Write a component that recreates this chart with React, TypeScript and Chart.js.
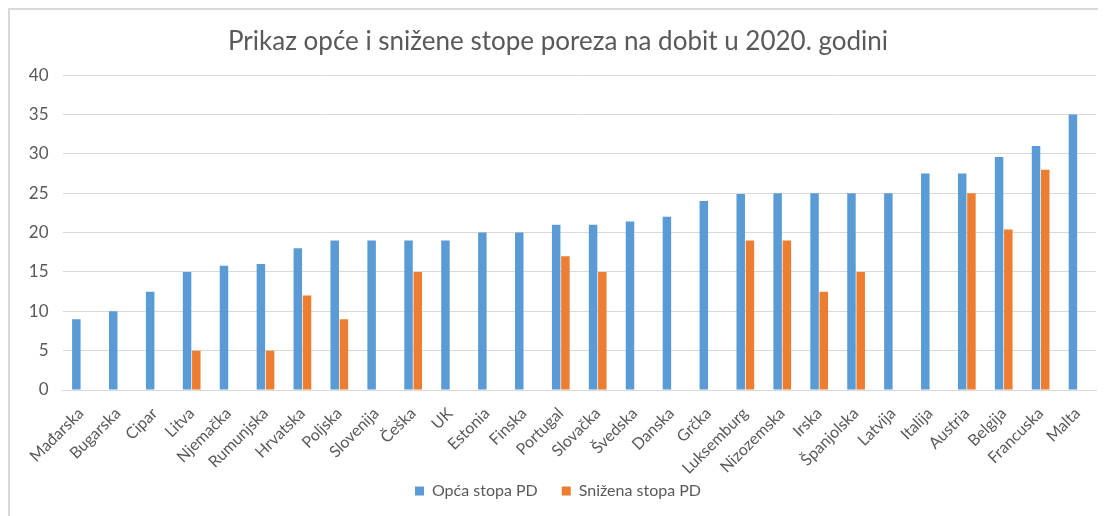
import React, { useEffect, useRef } from "react";
import { Chart, registerables } from "chart.js";

Chart.register(...registerables);

const categories = [
  "Mađarska", "Bugarska", "Cipar", "Litva", "Njemačka", "Rumunjska", "Hrvatska",
  "Poljska", "Slovenija", "Češka", "UK", "Estonia", "Finska", "Portugal",
  "Slovačka", "Švedska", "Danska", "Grčka", "Luksemburg", "Nizozemska", "Irska",
  "Španjolska", "Latvija", "Italija", "Austria", "Belgija", "Francuska", "Malta",
];

const opcaStopa = [
  9, 10, 12.5, 15, 15.8, 16, 18, 19, 19, 19, 19, 20, 20, 21, 21, 21.4, 22, 24,
  24.9, 25, 25, 25, 25, 27.5, 27.5, 29.6, 31, 35,
];

const snizenaStopa = [
  null, null, null, 5, null, 5, 12, 9, null, 15, null, null, null, 17, 15, null,
  null, null, 19, 19, 12.5, 15, null, null, 25, 20.4, 28, null,
];

const yTicks = [0, 5, 10, 15, 20, 25, 30, 35, 40];

const TITLE = "Prikaz opće i snižene stope poreza na dobit u 2020. godini";
const SERIES = ["Opća stopa PD", "Snižena stopa PD"];
const COLORS = ["#5B9BD5", "#ED7D31"];
const TEXT = "#595959";
const GRID = "#D9D9D9";
const FONT = "Lato, 'Open Sans', sans-serif";

const noLabelClip = {
  id: "noLabelClip",
  afterLayout(chart: any) {
    if (chart.scales.x) chart.scales.x._computeLabelArea = () => undefined;
  },
};

export default function App() {
  const ref = useRef<HTMLCanvasElement | null>(null);

  useEffect(() => {
    if (!ref.current) return;
    const chart = new Chart(ref.current, {
      type: "bar",
      data: {
        labels: categories,
        datasets: [
          {
            label: SERIES[0],
            data: opcaStopa,
            backgroundColor: COLORS[0],
            barPercentage: 0.92,
            categoryPercentage: 0.5,
          },
          {
            label: SERIES[1],
            data: snizenaStopa as any,
            backgroundColor: COLORS[1],
            barPercentage: 0.92,
            categoryPercentage: 0.5,
          },
        ],
      },
      plugins: [noLabelClip],
      options: {
        animation: false,
        responsive: false,
        maintainAspectRatio: false,
        layout: { padding: { left: 10, right: 10, top: 0, bottom: 7 } },
        plugins: {
          title: {
            display: true,
            text: TITLE,
            color: TEXT,
            font: { family: FONT, size: 26, weight: "normal" },
            padding: { top: 16, bottom: 18 },
          },
          legend: {
            position: "bottom",
            labels: {
              color: TEXT,
              font: { family: FONT, size: 16 },
              boxWidth: 9,
              boxHeight: 9,
              padding: 24,
            },
          },
          tooltip: { enabled: false },
        },
        scales: {
          x: {
            grid: { display: false, drawTicks: false },
            border: { display: true, color: GRID, width: 1 },
            ticks: {
              color: TEXT,
              font: { family: FONT, size: 16 },
              maxRotation: 45,
              minRotation: 45,
              autoSkip: false,
              padding: 14,
            },
            afterFit: (scale: any) => {
              scale.height = 69;
            },
          },
          y: {
            min: 0,
            max: 40,
            afterBuildTicks: (scale: any) => {
              scale.ticks = yTicks.map((v) => ({ value: v }));
            },
            grid: { color: GRID, lineWidth: 1, drawTicks: false },
            border: { display: false },
            ticks: {
              color: TEXT,
              font: { family: FONT, size: 17 },
              padding: 14,
            },
            afterFit: (scale: any) => {
              scale.width = 42.5;
            },
          },
        },
      },
    });
    return () => chart.destroy();
  }, []);

  return (
    <div
      style={{
        width: 1096,
        height: 506,
        borderLeft: `2px solid ${GRID}`,
        borderTop: `2px solid ${GRID}`,
        background: "#fff",
      }}
    >
      <canvas ref={ref} width={1096} height={506} style={{ display: "block" }} />
    </div>
  );
}
